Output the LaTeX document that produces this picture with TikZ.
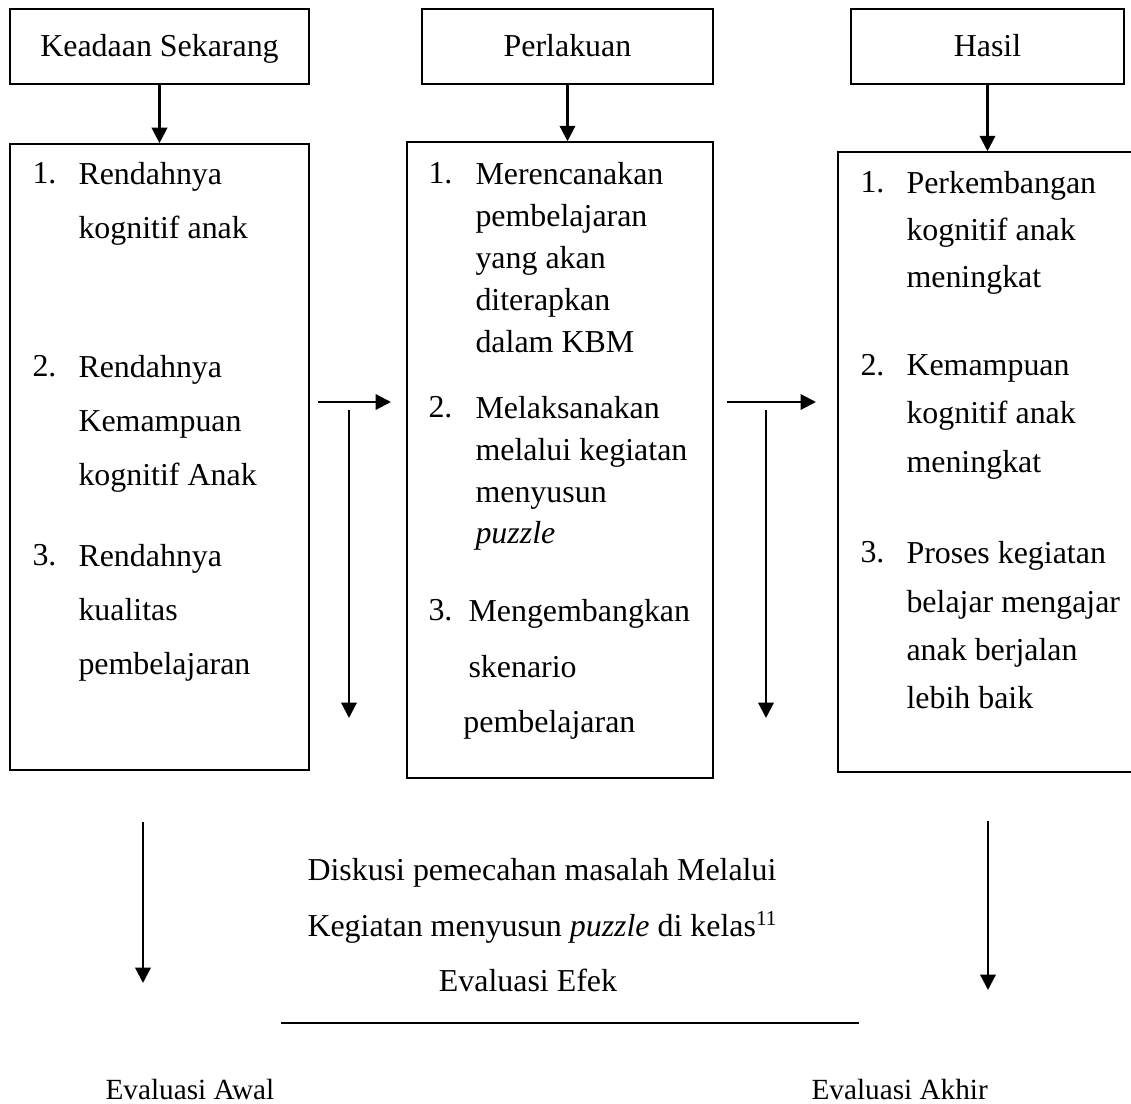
\documentclass[tikz,border=0pt]{standalone}
\usepackage{fontspec}
\setmainfont{Liberation Serif}
\usetikzlibrary{arrows.meta,positioning}

\begin{document}
\begin{tikzpicture}[x=0.376pt,y=-0.376pt,>={Triangle[length=5.8pt,width=5.8pt]},
  font=\fontsize{12}{14}\selectfont,
  box/.style={draw,line width=0.6pt,inner sep=0pt},
  judul/.style={box,minimum height=28.2pt,text height=8.2pt,text depth=1pt},
  num/.style={anchor=north west,inner sep=0pt},
  isi/.style={anchor=north west,inner sep=0pt,align=left},
  panah/.style={->,line width=0.85pt}]
  \useasboundingbox (0,0) rectangle (1131,1104);
  % judul kolom
  \node[judul,minimum width=112.4pt] (keadaan) at (159.5,46.5) {Keadaan Sekarang};
  \node[judul,minimum width=109.4pt] (perlakuan) at (567.5,46.5) {Perlakuan};
  \node[judul,minimum width=102.6pt] (hasil) at (987.5,46.5) {Hasil};
  % kotak isi
  \node[box,minimum width=112.4pt,minimum height=235.4pt] (kotak1) at (159.5,457) {};
  \node[box,minimum width=115.1pt,minimum height=239.1pt] (kotak2) at (560,460) {};
  \node[box,minimum width=115.4pt,minimum height=233.1pt] (kotak3) at (991.5,462) {};
  \draw[panah] (keadaan) -- (kotak1);
  \draw[panah] (perlakuan.south) -- (perlakuan.south |- kotak2.north);
  \draw[panah] (hasil.south) -- (hasil.south |- kotak3.north);
  % keadaan sekarang
  \node[num] (n11) at (32,162) {1.};
  \node[isi,font=\fontsize{12}{20.3}\selectfont] (t11) at (78,162) {Rendahnya\\kognitif anak};
  \node[num] (n12) at (32,355) {2.};
  \node[isi,font=\fontsize{12}{20.3}\selectfont] (t12) at (78,355) {Rendahnya\\Kemampuan\\kognitif Anak};
  \node[num] (n13) at (32,544) {3.};
  \node[isi,font=\fontsize{12}{20.3}\selectfont] (t13) at (78,544) {Rendahnya\\kualitas\\pembelajaran};
  % perlakuan
  \node[num] (n21) at (428,162) {1.};
  \node[isi,font=\fontsize{12}{15.8}\selectfont] (t21) at (475,162) {Merencanakan\\pembelajaran\\yang akan\\diterapkan\\dalam KBM};
  \node[num] (n22) at (428,396) {2.};
  \node[isi,font=\fontsize{12}{15.7}\selectfont] (t22) at (475,396) {Melaksanakan\\melalui kegiatan\\menyusun\\\textit{puzzle}};
  \node[num] (n23) at (428,599) {3.};
  \node[isi,font=\fontsize{12}{20.9}\selectfont] (t23) at (468,599) {Mengembangkan\\skenario\\\hspace*{-1.9pt}pembelajaran};
  % hasil
  \node[num] (n31) at (860,171) {1.};
  \node[isi,font=\fontsize{12}{17.7}\selectfont] (t31) at (906,171) {Perkembangan\\kognitif anak\\meningkat};
  \node[num] (n32) at (860,354) {2.};
  \node[isi,font=\fontsize{12}{18.2}\selectfont] (t32) at (906,354) {Kemampuan\\kognitif anak\\meningkat};
  \node[num] (n33) at (860,541) {3.};
  \node[isi,font=\fontsize{12}{18.2}\selectfont] (t33) at (906,541) {Proses kegiatan\\belajar mengajar\\anak berjalan\\lebih baik};
  % panah tengah
  \coordinate (a1) at (318,402);
  \coordinate (a2) at (391,402);
  \coordinate (b1) at (349,410);
  \coordinate (b2) at (349,718);
  \coordinate (c1) at (727,402);
  \coordinate (c2) at (816,402);
  \coordinate (d1) at (766,410);
  \coordinate (d2) at (766,718);
  \draw[panah] (a1) -- (a2);
  \draw[panah] (b1) -- (b2);
  \draw[panah] (c1) -- (c2);
  \draw[panah] (d1) -- (d2);
  % bagian bawah
  \coordinate (e1) at (143,822);
  \coordinate (e2) at (143,983);
  \coordinate (f1) at (988,821);
  \coordinate (f2) at (988,990);
  \coordinate (g1) at (281,1023);
  \coordinate (g2) at (859,1023);
  \draw[panah] (e1) -- (e2);
  \draw[panah] (f1) -- (f2);
  \draw[line width=0.85pt] (g1) -- (g2);
  \node[anchor=base west,inner sep=0pt] (diskusi) at (307,881) {Diskusi pemecahan masalah Melalui};
  \node[anchor=base west,inner sep=0pt] (kegiatan) at (307,937) {Kegiatan menyusun \textit{puzzle} di kelas\textsuperscript{11}};
  \node[anchor=base,inner sep=0pt] (efek) at (528,992) {Evaluasi Efek};
  \node[anchor=base west,inner sep=0pt,font=\fontsize{11}{13}\selectfont] (awal) at (105,1100) {Evaluasi Awal};
  \node[anchor=base west,inner sep=0pt,font=\fontsize{11}{13}\selectfont] (akhir) at (811,1100) {Evaluasi Akhir};
\end{tikzpicture}
\end{document}
